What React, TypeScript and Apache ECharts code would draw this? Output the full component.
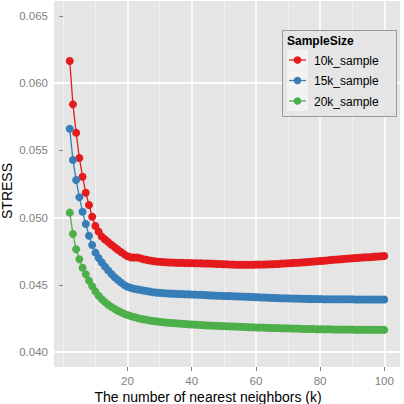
import React, { useEffect, useRef } from "react";
import * as echarts from "echarts";

// Number of nearest neighbours k = 2 .. 100
const neighbors: number[] = Array.from({ length: 99 }, (_, i) => i + 2);

const seriesNames = ["10k_sample", "15k_sample", "20k_sample"];
const seriesColors = ["#E41A1C", "#377EB8", "#4DAF4A"];

const stress10k = [
  0.06164, 0.05842, 0.05631, 0.05443, 0.05304, 0.05185, 0.05094, 0.05007, 0.04938, 0.04896,
  0.04859, 0.04838, 0.04818, 0.04799, 0.0478, 0.04762, 0.04744, 0.04727, 0.04713, 0.04705,
  0.04703, 0.04704, 0.04698, 0.04691, 0.04686, 0.04681, 0.04677, 0.04674, 0.04672, 0.0467,
  0.04668, 0.04667, 0.04666, 0.04665, 0.04664, 0.04664, 0.04663, 0.04662, 0.04662, 0.04661,
  0.04661, 0.0466, 0.04659, 0.04659, 0.04658, 0.04657, 0.04656, 0.04655, 0.04654, 0.04653,
  0.04652, 0.04651, 0.0465, 0.0465, 0.0465, 0.0465, 0.0465, 0.0465, 0.04651, 0.04651,
  0.04652, 0.04652, 0.04653, 0.04654, 0.04655, 0.04656, 0.04658, 0.04659, 0.04661, 0.04662,
  0.04664, 0.04665, 0.04667, 0.04668, 0.0467, 0.04672, 0.04674, 0.04676, 0.04678, 0.0468,
  0.04682, 0.04684, 0.04686, 0.04688, 0.0469, 0.04692, 0.04694, 0.04696, 0.04698, 0.047,
  0.04701, 0.04703, 0.04705, 0.04706, 0.04708, 0.0471, 0.04711, 0.04713, 0.04715,
];

const stress15k = [
  0.05661, 0.05428, 0.0528, 0.05151, 0.05044, 0.04953, 0.04866, 0.04797, 0.0474, 0.047,
  0.04666, 0.04636, 0.04608, 0.04581, 0.04557, 0.04536, 0.04517, 0.045, 0.04487, 0.04479,
  0.04472, 0.04467, 0.04463, 0.04458, 0.04454, 0.0445, 0.04446, 0.04443, 0.04441, 0.04439,
  0.04437, 0.04436, 0.04435, 0.04434, 0.04433, 0.04432, 0.04431, 0.0443, 0.04429, 0.04428,
  0.04427, 0.04426, 0.04425, 0.04423, 0.04422, 0.04421, 0.0442, 0.04419, 0.04418, 0.04418,
  0.04417, 0.04416, 0.04415, 0.04414, 0.04413, 0.04412, 0.04411, 0.0441, 0.04409, 0.04408,
  0.04407, 0.04406, 0.04405, 0.04404, 0.04403, 0.04402, 0.04401, 0.044, 0.044, 0.04399,
  0.04398, 0.04398, 0.04397, 0.04397, 0.04396, 0.04396, 0.04395, 0.04395, 0.04395, 0.04394,
  0.04394, 0.04394, 0.04394, 0.04393, 0.04393, 0.04393, 0.04393, 0.04393, 0.04393, 0.04392,
  0.04392, 0.04392, 0.04392, 0.04392, 0.04392, 0.04392, 0.04392, 0.04392, 0.04392,
];

const stress20k = [
  0.05037, 0.04879, 0.04765, 0.04691, 0.04628, 0.04579, 0.04532, 0.0449, 0.04452, 0.0442,
  0.04394, 0.04372, 0.04352, 0.04336, 0.04322, 0.04308, 0.04296, 0.04285, 0.04276, 0.04268,
  0.04261, 0.04255, 0.04249, 0.04244, 0.0424, 0.04236, 0.04232, 0.04229, 0.04226, 0.04223,
  0.04221, 0.04219, 0.04217, 0.04215, 0.04213, 0.04211, 0.04209, 0.04208, 0.04206, 0.04205,
  0.04203, 0.04202, 0.042, 0.04199, 0.04198, 0.04197, 0.04196, 0.04195, 0.04194, 0.04193,
  0.04192, 0.04191, 0.0419, 0.04189, 0.04188, 0.04187, 0.04186, 0.04185, 0.04184, 0.04183,
  0.04183, 0.04182, 0.04181, 0.0418, 0.0418, 0.04179, 0.04178, 0.04177, 0.04177, 0.04176,
  0.04175, 0.04175, 0.04174, 0.04173, 0.04173, 0.04172, 0.04172, 0.04171, 0.04171, 0.0417,
  0.0417, 0.0417, 0.04169, 0.04169, 0.04169, 0.04168, 0.04168, 0.04168, 0.04168, 0.04167,
  0.04167, 0.04167, 0.04167, 0.04167, 0.04166, 0.04166, 0.04166, 0.04166, 0.04166,
];

const xTicks = [20, 40, 60, 80, 100];
const xMinorLines = [0, 10, 30, 50, 70, 90];
const yTicks = [0.04, 0.045, 0.05, 0.055, 0.06, 0.065];
const yMinorLines = [0.0425, 0.0475, 0.0525, 0.0575, 0.0625];

const FONT = "'Liberation Sans', Arial, Helvetica, sans-serif";

export default function App() {
  const ref = useRef<HTMLDivElement>(null);

  useEffect(() => {
    if (!ref.current) return;
    const chart = echarts.init(ref.current, undefined, { renderer: "svg" });

    const allSeries = [stress10k, stress15k, stress20k];

    const major = { color: "#FFFFFF", width: 1.5, type: "solid" as const };
    const minor = { color: "#F2F2F2", width: 1, type: "solid" as const };

    const gridLines = [
      ...xMinorLines.map((v) => ({ xAxis: v, lineStyle: minor })),
      ...yMinorLines.map((v) => ({ yAxis: v, lineStyle: minor })),
      ...xTicks.map((v) => ({ xAxis: v, lineStyle: major })),
      ...yTicks.map((v) => ({ yAxis: v, lineStyle: major })),
    ];

    // legend box drawn as graphics
    const legendX = 282.5;
    const legendY = 30.5;
    const rowY = [60, 80.5, 101];
    const legendGraphics: any[] = [
      {
        type: "rect",
        shape: { x: legendX, y: legendY, width: 114, height: 86 },
        style: { fill: "#E5E5E5", stroke: "#999999", lineWidth: 1 },
        z: 10,
      },
      {
        type: "text",
        x: 287,
        y: 41,
        style: {
          text: "SampleSize",
          font: `bold 12px ${FONT}`,
          fill: "#000000",
          align: "left",
          verticalAlign: "middle",
        },
        z: 11,
      },
    ];
    seriesNames.forEach((name, i) => {
      const cy = rowY[i];
      legendGraphics.push(
        {
          type: "rect",
          shape: { x: 287, y: cy - 10, width: 21, height: 20 },
          style: { fill: "#F2F2F2" },
          z: 11,
        },
        {
          type: "line",
          shape: { x1: 289, y1: cy, x2: 306, y2: cy },
          style: { stroke: seriesColors[i], lineWidth: 1.3 },
          z: 12,
        },
        {
          type: "circle",
          shape: { cx: 297.5, cy, r: 3.8 },
          style: { fill: seriesColors[i] },
          z: 12,
        },
        {
          type: "text",
          x: 314,
          y: cy + 0.5,
          style: {
            text: name,
            font: `12px ${FONT}`,
            fill: "#000000",
            align: "left",
            verticalAlign: "middle",
          },
          z: 12,
        }
      );
    });

    const option: any = {
      animation: false,
      grid: {
        left: 54,
        right: 4,
        top: 1,
        bottom: 37,
        show: true,
        backgroundColor: "#E5E5E5",
        borderWidth: 0,
      },
      xAxis: {
        type: "value",
        min: -2.9,
        max: 104.9,
        axisLine: { show: false },
        splitLine: { show: false },
        axisTick: {
          show: true,
          length: 4,
          customValues: xTicks,
          lineStyle: { color: "#7F7F7F", width: 1 },
        },
        axisLabel: {
          customValues: xTicks,
          color: "#7F7F7F",
          fontSize: 11.5,
          fontFamily: FONT,
          margin: 8,
        },
      },
      yAxis: {
        type: "value",
        min: 0.0389,
        max: 0.0661,
        axisLine: { show: false },
        splitLine: { show: false },
        axisTick: {
          show: true,
          length: 4,
          customValues: yTicks,
          lineStyle: { color: "#7F7F7F", width: 1 },
        },
        axisLabel: {
          customValues: yTicks,
          color: "#7F7F7F",
          fontSize: 11.5,
          fontFamily: FONT,
          margin: 6,
          formatter: (v: number) => v.toFixed(3),
        },
      },
      series: [
        {
          type: "line",
          name: "grid",
          data: [],
          z: 1,
          silent: true,
          markLine: {
            z: 1,
            silent: true,
            symbol: ["none", "none"],
            label: { show: false },
            emphasis: { disabled: true },
            data: gridLines,
          },
        },
        ...seriesNames.map((name, i) => ({
          type: "line",
          name,
          z: 3 + i,
          data: neighbors.map((k, j) => [k, allSeries[i][j]]),
          symbol: "circle",
          symbolSize: 8,
          showSymbol: true,
          showAllSymbol: true,
          lineStyle: { color: seriesColors[i], width: 1.3 },
          itemStyle: { color: seriesColors[i], borderWidth: 0 },
          emphasis: { disabled: true },
        })),
      ],
      graphic: [
        {
          type: "text",
          x: 208,
          y: 397,
          style: {
            text: "The number of nearest neighbors (k)",
            font: `14px ${FONT}`,
            fill: "#000000",
            align: "center",
            verticalAlign: "middle",
          },
        },
        {
          type: "text",
          x: 7,
          y: 191,
          rotation: Math.PI / 2,
          style: {
            text: "STRESS",
            font: `14px ${FONT}`,
            fill: "#000000",
            align: "center",
            verticalAlign: "middle",
          },
        },
        ...legendGraphics,
      ],
    };

    chart.setOption(option);
    return () => chart.dispose();
  }, []);

  return (
    <div
      ref={ref}
      style={{ position: "absolute", left: 0, top: 0, width: 404, height: 404 }}
    />
  );
}
